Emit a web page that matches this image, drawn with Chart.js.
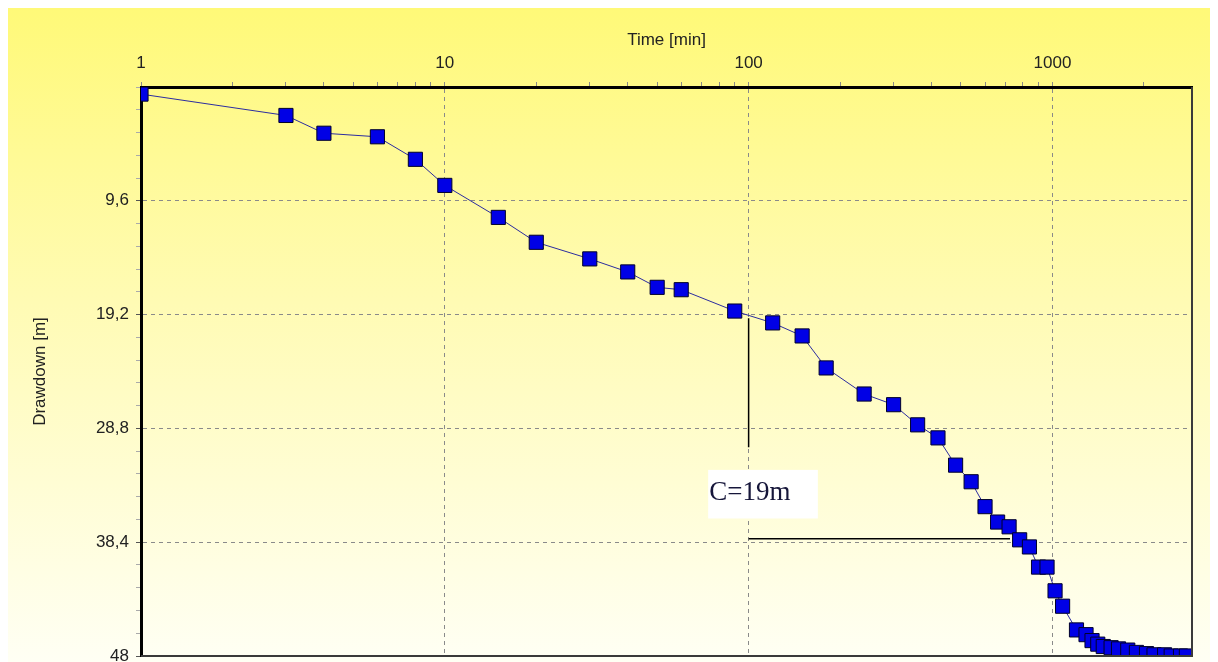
<!DOCTYPE html>
<html>
<head>
<meta charset="utf-8">
<script src="https://cdn.jsdelivr.net/npm/chart.js@4"></script>
<style>
  body { margin: 8px; background: #fff; overflow: hidden; }
  #myChart { display: block; }
</style>
</head>
<body>
<canvas id="myChart" width="1210" height="654"></canvas>
<script>
// pumping test: time since start [min] and drawdown [m]
var timeMin = [1, 3, 4, 6, 8, 10, 15, 20, 30, 40, 50, 60, 90, 120, 150, 180,
  240, 300, 360, 420, 480, 540, 600, 660, 720, 780, 840, 900, 960, 1020, 1080,
  1200, 1290, 1350, 1410, 1470, 1560, 1650, 1770, 1890, 2040, 2160, 2340, 2460, 2640, 2760];
var drawdown = [0.6, 2.4, 3.9, 4.2, 6.1, 8.3, 11.0, 13.1, 14.5, 15.6, 16.9, 17.1, 18.9, 19.9, 21.0, 23.7,
  25.9, 26.8, 28.5, 29.6, 31.9, 33.3, 35.4, 36.7, 37.1, 38.2, 38.8, 40.5, 40.5, 42.5, 43.8,
  45.8, 46.2, 46.7, 47.0, 47.2, 47.3, 47.4, 47.5, 47.7, 47.8, 47.9, 47.9, 48.0, 48.0, 48.0];

var xTicks = [1, 2, 3, 4, 5, 6, 7, 8, 9, 10, 20, 30, 40, 50, 60, 70, 80, 90,
  100, 200, 300, 400, 500, 600, 700, 800, 900, 1000, 2000];
var xLabels = [1, 10, 100, 1000];
var yStep = 1.92;
var yLabels = [9.6, 19.2, 28.8, 38.4, 48];

// the hand drawn "C" construction on the plot
var noteVertical = { t: 100, from: 19.5, to: 30.4 };
var noteHorizontal = { s: 38.1, from: 100, to: 725 };
var noteBox = { text: "C=19m", t1: 73.6, t2: 169, s1: 32.3, s2: 36.4, sText: 34.85 };

var points = timeMin.map((t, i) => ({ x: t, y: drawdown[i] }));

var sans = "Arial, 'Liberation Sans', sans-serif";

function isLabelX(v) {
  return xLabels.indexOf(v) >= 0;
}
function isLabelY(v) {
  return yLabels.some(l => Math.abs(l - v) < 0.01);
}
function noPad(scale) {
  scale.paddingTop = 0;
  scale.paddingBottom = 0;
  scale.paddingLeft = 0;
  scale.paddingRight = 0;
}

var background = {
  id: "background",
  beforeDraw(chart) {
    var c = chart.ctx;
    var g = c.createLinearGradient(0, 0, 0, chart.height);
    g.addColorStop(0, "#fff978");
    g.addColorStop(0.45, "#fffbb4");
    g.addColorStop(1, "#fffff4");
    c.save();
    c.fillStyle = g;
    c.fillRect(0, 0, chart.width, chart.height);
    c.restore();
  }
};

var frame = {
  id: "frame",
  afterDatasetsDraw(chart) {
    var c = chart.ctx;
    var a = chart.chartArea;
    c.save();
    c.strokeStyle = "#3a3a3a";
    c.lineWidth = 2;
    c.beginPath();
    c.moveTo(a.right, a.top);
    c.lineTo(a.right, a.bottom);
    c.lineTo(a.left, a.bottom);
    c.stroke();
    c.restore();
  }
};

var note = {
  id: "note",
  afterDatasetsDraw(chart) {
    var c = chart.ctx;
    var xs = chart.scales.x;
    var ys = chart.scales.y;
    c.save();
    c.strokeStyle = "#000";
    c.lineWidth = 1.5;
    c.beginPath();
    var vx = xs.getPixelForValue(noteVertical.t);
    c.moveTo(vx, ys.getPixelForValue(noteVertical.from));
    c.lineTo(vx, ys.getPixelForValue(noteVertical.to));
    var hy = ys.getPixelForValue(noteHorizontal.s);
    c.moveTo(xs.getPixelForValue(noteHorizontal.from), hy);
    c.lineTo(xs.getPixelForValue(noteHorizontal.to), hy);
    c.stroke();

    var bx1 = xs.getPixelForValue(noteBox.t1);
    var bx2 = xs.getPixelForValue(noteBox.t2);
    var by1 = ys.getPixelForValue(noteBox.s1);
    var by2 = ys.getPixelForValue(noteBox.s2);
    c.fillStyle = "#ffffff";
    c.fillRect(bx1, by1, bx2 - bx1, by2 - by1);
    c.fillStyle = "#16163a";
    c.font = "27px 'Liberation Serif', 'Times New Roman', serif";
    c.textBaseline = "alphabetic";
    c.textAlign = "left";
    c.fillText(noteBox.text, bx1 + 1, ys.getPixelForValue(noteBox.sText));
    c.restore();
  }
};

var ctx = document.getElementById("myChart").getContext("2d");

var myChart = new Chart(ctx, {
  type: "line",
  plugins: [background, frame, note],
  data: {
    datasets: [{
      label: "Drawdown",
      data: points,
      borderColor: "#2c2ca0",
      borderWidth: 1,
      backgroundColor: "#0000e6",
      pointStyle: "rect",
      pointRadius: 10,
      pointBorderColor: "#00002a",
      pointBorderWidth: 1,
      tension: 0
    }]
  },
  options: {
    responsive: false,
    animation: false,
    layout: {
      autoPadding: false,
      padding: { top: 0, left: 0, right: 26, bottom: 6 }
    },
    plugins: {
      legend: { display: false },
      tooltip: { enabled: false }
    },
    scales: {
      x: {
        type: "logarithmic",
        position: "top",
        min: 1,
        max: 2880,
        afterFit: (scale) => { scale.height = 79; noPad(scale); },
        afterBuildTicks: (scale) => {
          scale.ticks = xTicks.map(v => ({ value: v, major: isLabelX(v) }));
        },
        title: {
          display: true,
          text: "Time [min]",
          color: "#222",
          font: { family: sans, size: 17 },
          padding: { top: 22, bottom: 0 }
        },
        ticks: {
          autoSkip: false,
          maxRotation: 0,
          padding: 8,
          color: "#222",
          font: { family: sans, size: 17 },
          callback: (value) => isLabelX(value) ? String(value) : ""
        },
        grid: {
          color: (c) => (c.tick && isLabelX(c.tick.value) && c.tick.value > 1) ? "#8a8a8a" : "rgba(0,0,0,0)",
          lineWidth: 1,
          tickColor: "#8a8a8a",
          tickLength: 5
        },
        border: { display: true, color: "#000", width: 3, dash: [4, 4] }
      },
      y: {
        type: "linear",
        reverse: true,
        min: 0,
        max: 48,
        afterFit: (scale) => { scale.width = 133; noPad(scale); },
        afterBuildTicks: (scale) => {
          var t = [];
          for (var i = 0; i <= 25; i++) t.push({ value: Math.round(i * yStep * 100) / 100 });
          scale.ticks = t;
        },
        title: {
          display: true,
          text: "Drawdown [m]",
          color: "#222",
          font: { family: sans, size: 17 },
          padding: { top: 22, bottom: 0 }
        },
        ticks: {
          autoSkip: false,
          padding: 7,
          color: "#222",
          font: { family: sans, size: 17 },
          callback: (value) => isLabelY(value) ? String(value).replace(".", ",") : ""
        },
        grid: {
          color: (c) => (c.tick && isLabelY(c.tick.value)) ? "#8a8a8a" : "rgba(0,0,0,0)",
          lineWidth: 1,
          tickColor: (c) => (c.tick && isLabelY(c.tick.value)) ? "#555" : "#aaa",
          tickLength: 5
        },
        border: { display: true, color: "#000", width: 3, dash: [4, 4] }
      }
    }
  }
});
</script>
</body>
</html>
